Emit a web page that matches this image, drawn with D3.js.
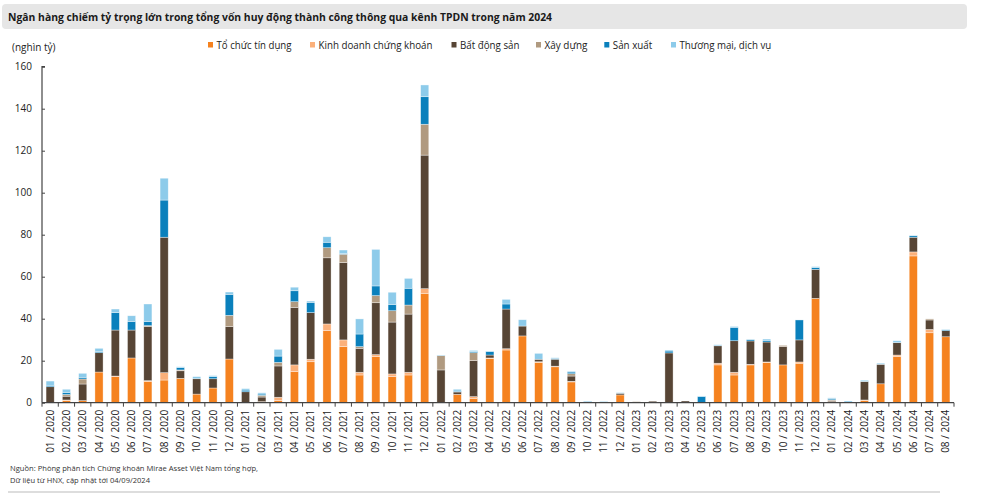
<!DOCTYPE html>
<html><head><meta charset="utf-8">
<script src="https://cdn.jsdelivr.net/npm/d3@7"></script>
<style>
body{margin:0;background:#fff;}
svg{display:block;font-family:"Open Sans","Noto Sans",sans-serif;}
</style></head>
<body><svg id="c" width="1000" height="496"></svg>
<script>
const months = ["01 / 2020","02 / 2020","03 / 2020","04 / 2020","05 / 2020","06 / 2020","07 / 2020","08 / 2020","09 / 2020","10 / 2020","11 / 2020","12 / 2020",
"01 / 2021","02 / 2021","03 / 2021","04 / 2021","05 / 2021","06 / 2021","07 / 2021","08 / 2021","09 / 2021","10 / 2021","11 / 2021","12 / 2021",
"01 / 2022","02 / 2022","03 / 2022","04 / 2022","05 / 2022","06 / 2022","07 / 2022","08 / 2022","09 / 2022","10 / 2022","11 / 2022","12 / 2022",
"01 / 2023","02 / 2023","03 / 2023","04 / 2023","05 / 2023","06 / 2023","07 / 2023","08 / 2023","09 / 2023","10 / 2023","11 / 2023","12 / 2023",
"01 / 2024","02 / 2024","03 / 2024","04 / 2024","05 / 2024","06 / 2024","07 / 2024","08 / 2024"];
const seriesNames = ["Tổ chức tín dụng","Kinh doanh chứng khoán","Bất động sản","Xây dựng","Sản xuất","Thương mại, dịch vụ"];
const toChucTinDung = [0,1.0,1.0,14.6,12.4,21.3,10.0,10.8,11.6,4.1,7.0,20.8,
 0,0.5,1.0,14.8,19.5,34.3,26.7,13.2,21.9,12.4,13.2,52.1,
 0,4.0,2.1,21.0,25.1,31.8,19.2,17.1,9.9,0,0,3.7,
 0,0,0,0,0,18.0,13.2,18.0,19.2,18.0,18.8,49.7,
 0.5,0,1.1,9.0,21.9,69.9,33.3,31.4];
const kinhDoanhCK = [0,0.3,0,0,0.3,0,0.5,3.5,0,0,0,0,
 0,0,1.6,3.2,1.2,3.2,3.2,1.3,1.0,1.3,1.3,2.2,
 0,0,0.8,0.3,0.6,0,0.3,0.3,0.3,0,0,0,
 0,0,0,0,0,0.8,1.3,0.3,0.2,0,0.6,0,
 0,0,0.2,0,0.8,1.9,1.6,0];
const batDongSan = [7.6,1.8,7.9,9.2,21.9,13.3,25.7,64.5,3.6,7.3,4.4,15.4,
 5.2,2.2,14.9,27.4,22.2,31.5,36.8,11.4,24.7,24.7,27.7,63.6,
 15.6,1.1,17.1,1.4,18.9,4.7,1.2,3.3,2.5,0,0,0.8,
 0,0.7,23.7,0.8,0,8.3,15.0,11.1,9.5,8.7,10.5,13.8,
 0.6,0,8.8,9.3,5.9,7.0,4.5,2.9];
const xayDung = [0,0.8,2.4,0,0,0,0.5,0,0.4,0,0,5.4,
 0,0.8,1.7,2.7,0,4.8,4.0,0.8,3.4,5.4,4.3,14.7,
 6.8,0,3.8,0,0,0,0,0,1.1,0,0,0,
 0.5,0,0,0,0,0,0,0,0,0.6,0,0,
 0.3,0,0,0,0,0,0.5,0];
const sanXuat = [0.7,1.0,0.8,0.6,8.3,4.1,2.0,17.7,1.1,0,1.0,10.0,
 0.8,0.6,3.0,5.2,4.9,2.6,0.3,6.0,4.6,3.0,8.0,13.1,
 0,0.4,0.5,1.6,2.4,0,0,0.4,0.8,0.6,0,0,
 0,0,0.9,0,2.9,0,6.4,0.6,0.8,0,9.5,0.8,
 0.6,0,0,0,0,0.7,0,0.4];
const thuongMaiDV = [2.0,1.5,1.9,1.5,1.7,2.7,8.3,10.4,0.4,1.0,0.5,1.1,
 0.7,0.6,3.2,1.7,0.6,2.6,1.7,7.2,17.4,5.8,4.7,5.6,
 0.3,0.9,0.6,0.3,2.2,3.0,2.8,0.3,0.4,0.2,0.6,0.3,
 0,0,0.5,0,0.3,0.5,0.4,0,0.6,0,0,0.5,
 0.3,0.8,0.6,0.5,0.9,0.3,0,0.3];
const yTicks = [0,20,40,60,80,100,120,140,160];
const colors = ["#F5821F","#FBB07A","#574535","#B09A80","#0A80BC","#8DCBEA"];

const seriesArr = [toChucTinDung,kinhDoanhCK,batDongSan,xayDung,sanXuat,thuongMaiDV];
const keys = seriesNames;
const table = months.map((m,i)=>{const o={m}; keys.forEach((k,j)=>o[k]=seriesArr[j][i]); return o;});
const stack = d3.stack().keys(keys)(table);

const svg = d3.select("#c");
// title box
svg.append("rect").attr("x",2).attr("y",4).attr("width",965).attr("height",25).attr("rx",4).attr("fill","#e6e6e6");
svg.append("text").attr("x",8).attr("y",20.5).attr("font-size",11).attr("font-weight","bold").attr("fill","#1a1a1a")
  .attr("textLength",544).attr("lengthAdjust","spacingAndGlyphs")
  .text("Ngân hàng chiếm tỷ trọng lớn trong tổng vốn huy động thành công thông qua kênh TPDN trong năm 2024");

const x = d3.scaleBand().domain(months).range([42,954]).paddingInner(0.5).paddingOuter(0.25);
const y = d3.scaleLinear().domain([0,160]).range([402.7,66.7]);

// bars
svg.append("g").selectAll("g").data(stack).join("g").attr("fill",(d,i)=>colors[i])
 .selectAll("rect").data(d=>d).join("rect")
 .attr("x",d=>x(d.data.m)).attr("width",x.bandwidth())
 .attr("y",d=>y(d[1])).attr("height",d=>Math.max(0,y(d[0])-y(d[1])))
 .attr("stroke","#fff").attr("stroke-opacity",0.6).attr("stroke-width",0.6);

// y axis
const ya = svg.append("g").attr("transform","translate(42,0)")
 .call(d3.axisRight(y).tickValues(yTicks).tickSize(3).tickFormat(""));
ya.select(".domain").attr("stroke","#444").attr("stroke-width",1.2).attr("d","M3,66.7H0V402.7");
ya.selectAll(".tick line").attr("stroke","#444");
svg.append("g").selectAll("text").data(yTicks).join("text")
 .attr("x",32).attr("y",d=>y(d)+3.5).attr("text-anchor","end").attr("font-size",10).attr("fill","#222").text(d=>d);
svg.append("text").attr("x",12).attr("y",51).attr("font-size",10).attr("fill","#222").text("(nghìn tỷ)");

// x axis
const xa = svg.append("g").attr("transform","translate(0,402.7)");
xa.append("line").attr("x1",42).attr("x2",954).attr("stroke","#444").attr("stroke-width",1.2);
const bounds = d3.range(months.length+1).map(i=>42+i*x.step());
xa.selectAll("line.t").data(bounds).join("line").attr("class","t")
 .attr("x1",d=>d).attr("x2",d=>d).attr("y1",0).attr("y2",4).attr("stroke","#444");
xa.selectAll("text").data(months).join("text")
 .attr("transform",d=>`translate(${x(d)+x.bandwidth()/2+3.5},7) rotate(-90)`)
 .attr("text-anchor","end").attr("font-size",10).attr("fill","#222").text(d=>d);

// legend
const legX = [208,310,451.5,536,604.3,671];
const legW = [75,114,59.5,43,39.4,91.7];
const lg = svg.append("g").selectAll("g").data(keys).join("g").attr("transform",(d,i)=>`translate(${legX[i]},0)`);
lg.append("rect").attr("x",0).attr("y",42).attr("width",5).attr("height",5.5).attr("fill",(d,i)=>colors[i]);
lg.append("text").attr("x",8.5).attr("y",48.5).attr("font-size",10).attr("fill","#222")
 .attr("textLength",(d,i)=>legW[i]).attr("lengthAdjust","spacingAndGlyphs").text(d=>d);

// footnote
svg.append("text").attr("x",10).attr("y",471).attr("font-size",8).attr("fill","#333")
 .attr("textLength",248).attr("lengthAdjust","spacingAndGlyphs")
 .text("Nguồn: Phòng phân tích Chứng khoán Mirae Asset Việt Nam tổng hợp,");
svg.append("text").attr("x",10).attr("y",483).attr("font-size",8).attr("fill","#333")
 .attr("textLength",140).attr("lengthAdjust","spacingAndGlyphs")
 .text("Dữ liệu từ HNX, cập nhật tới 04/09/2024");
svg.append("line").attr("x1",8).attr("x2",940).attr("y1",492).attr("y2",492).attr("stroke","#ddd").attr("stroke-width",2);
</script></body></html>
